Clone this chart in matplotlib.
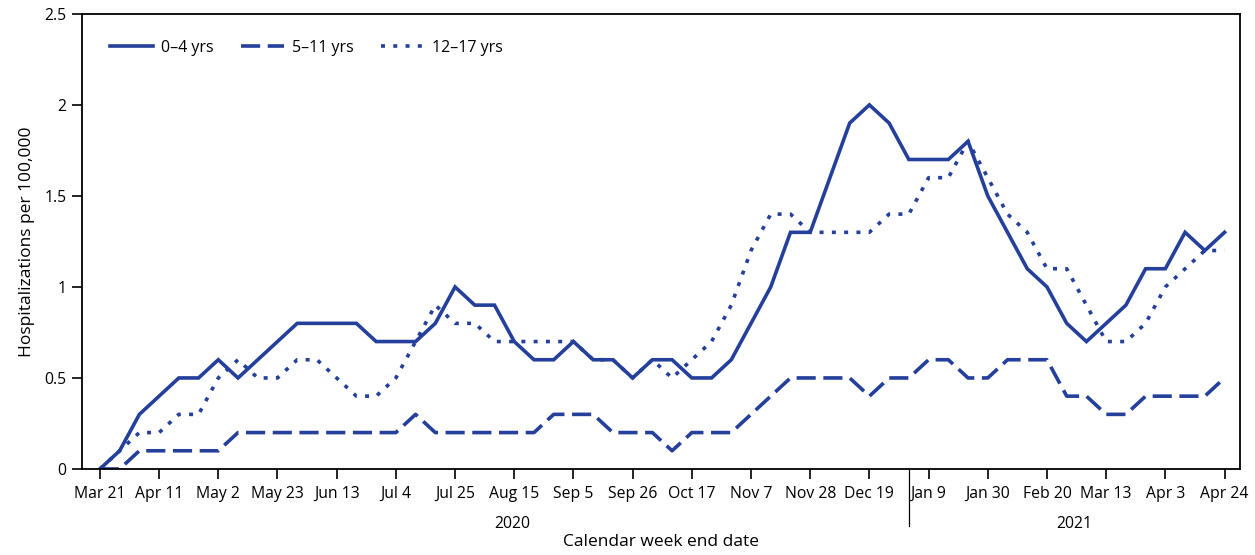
import matplotlib
matplotlib.use('Agg')
import matplotlib.pyplot as plt
import matplotlib.transforms as mtransforms
import numpy as np

plt.rcParams['font.family'] = ['Open Sans', 'DejaVu Sans']

# weekly data, week ending Mar 21 2020 .. Apr 24 2021
weeks = np.arange(58)
tick_labels = ['Mar 21', 'Apr 11', 'May 2', 'May 23', 'Jun 13', 'Jul 4', 'Jul 25',
               'Aug 15', 'Sep 5', 'Sep 26', 'Oct 17', 'Nov 7', 'Nov 28', 'Dec 19',
               'Jan 9', 'Jan 30', 'Feb 20', 'Mar 13', 'Apr 3', 'Apr 24']

age_0_4 = [0, 0.1, 0.3, 0.4, 0.5, 0.5, 0.6, 0.5, 0.6, 0.7,
           0.8, 0.8, 0.8, 0.8, 0.7, 0.7, 0.7, 0.8, 1.0, 0.9,
           0.9, 0.7, 0.6, 0.6, 0.7, 0.6, 0.6, 0.5, 0.6, 0.6,
           0.5, 0.5, 0.6, 0.8, 1.0, 1.3, 1.3, 1.6, 1.9, 2.0,
           1.9, 1.7, 1.7, 1.7, 1.8, 1.5, 1.3, 1.1, 1.0, 0.8,
           0.7, 0.8, 0.9, 1.1, 1.1, 1.3, 1.2, 1.3]

age_5_11 = [0, 0, 0.1, 0.1, 0.1, 0.1, 0.1, 0.2, 0.2, 0.2,
            0.2, 0.2, 0.2, 0.2, 0.2, 0.2, 0.3, 0.2, 0.2, 0.2,
            0.2, 0.2, 0.2, 0.3, 0.3, 0.3, 0.2, 0.2, 0.2, 0.1,
            0.2, 0.2, 0.2, 0.3, 0.4, 0.5, 0.5, 0.5, 0.5, 0.4,
            0.5, 0.5, 0.6, 0.6, 0.5, 0.5, 0.6, 0.6, 0.6, 0.4,
            0.4, 0.3, 0.3, 0.4, 0.4, 0.4, 0.4, 0.5]

age_12_17 = [0, 0.1, 0.2, 0.2, 0.3, 0.3, 0.5, 0.6, 0.5, 0.5,
             0.6, 0.6, 0.5, 0.4, 0.4, 0.5, 0.7, 0.9, 0.8, 0.8,
             0.7, 0.7, 0.7, 0.7, 0.7, 0.6, 0.6, 0.5, 0.6, 0.5,
             0.6, 0.7, 0.9, 1.2, 1.4, 1.4, 1.3, 1.3, 1.3, 1.3,
             1.4, 1.4, 1.6, 1.6, 1.8, 1.6, 1.4, 1.3, 1.1, 1.1,
             0.9, 0.7, 0.7, 0.8, 1.0, 1.1, 1.2, 1.2]

blue = '#24409a'

fig = plt.figure(figsize=(12.55, 5.55), dpi=100)
ax = fig.add_axes([0.0653, 0.155, 0.9227, 0.82])

lw = 2.6
ax.plot(weeks, age_0_4, color=blue, lw=lw, label='0\u20134 yrs', solid_joinstyle='miter')
ax.plot(weeks, age_5_11, color=blue, lw=lw, dashes=(5.3, 2.1), label='5\u201311 yrs')
ax.plot(weeks, age_12_17, color=blue, lw=lw, dashes=(1.1, 2.3), label='12\u201317 yrs')

ax.set_xlim(-0.91, 57.78)
ax.set_ylim(0, 2.5)
ax.set_yticks([0, 0.5, 1, 1.5, 2, 2.5])
ax.set_yticklabels(['0', '0.5', '1', '1.5', '2', '2.5'])
ax.set_xticks(weeks[::3])
ax.set_xticklabels(tick_labels)

for s in ax.spines.values():
    s.set_linewidth(1.3)
ax.tick_params(axis='both', direction='out', length=7, width=1.2, labelsize=11.3, colors='black')
ax.tick_params(axis='x', pad=5)
ax.tick_params(axis='y', pad=4)

# year separator and year labels
trans = mtransforms.blended_transform_factory(ax.transData, ax.transAxes)
ax.plot([41, 41], [0, -0.125], color='black', lw=0.9, transform=trans, clip_on=False)
ax.text(20.9, -0.12, '2020', transform=trans, ha='center', va='center', fontsize=11.3)
ax.text(49.4, -0.12, '2021', transform=trans, ha='center', va='center', fontsize=11.3)

ax.set_xlabel('Calendar week end date', fontsize=12.5, labelpad=23)
ax.set_ylabel('Hospitalizations per 100,000', fontsize=12.5, labelpad=7)

ax.legend(loc='upper left', ncol=3, frameon=False, fontsize=11.5, handlelength=2.7,
          columnspacing=1.7, handletextpad=0.5, bbox_to_anchor=(0.012, 0.975))

fig.savefig('out.png', dpi=100)
